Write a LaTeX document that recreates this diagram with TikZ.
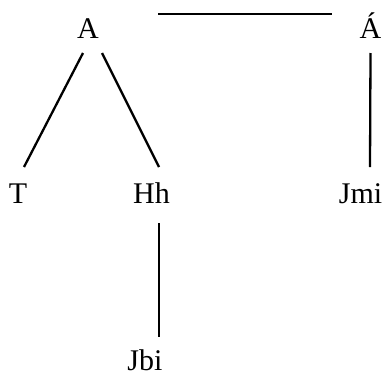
\documentclass[tikz,border=0pt]{standalone}
\usepackage{fontspec}
\setmainfont{Liberation Serif}
\usepackage{tikz}

\tikzset{
    word/.style={inner sep=0pt, anchor=base, font=\fontsize{30}{36}\selectfont},
    branch/.style={line width=2.3pt},
    link/.style={line width=1.2pt},
}

\begin{document}
\begin{tikzpicture}[x=1pt, y=1pt]
        \useasboundingbox (0,0) rectangle (387,376);

        \node[word] (A)   at (88,338)    {A};
        \node[word] (Aa)  at (370.5,338) {Á};
        \node[word] (T)   at (18,173)    {T};
        \node[word] (Hh)  at (151.5,173) {Hh};
        \node[word] (Jmi) at (360.5,173) {Jmi};
        \node[word] (Jbi) at (145,5.5)   {Jbi};

        \draw[branch]
            ([xshift=-5pt,yshift=-15pt]A.base)  edge ([xshift=6pt,yshift=36pt]T.base)
            ([xshift=14pt,yshift=-15pt]A.base)  edge ([xshift=7.5pt,yshift=36pt]Hh.base)
            ([yshift=-15pt]Aa.base)             edge ([xshift=9.5pt,yshift=36pt]Jmi.base)
            ([xshift=7.5pt,yshift=-20pt]Hh.base) edge ([xshift=14pt,yshift=33.5pt]Jbi.base)
            ;
        \draw[link] ([xshift=70pt,yshift=24pt]A.base) -- ([xshift=-38.5pt,yshift=24pt]Aa.base);
\end{tikzpicture}
\end{document}
